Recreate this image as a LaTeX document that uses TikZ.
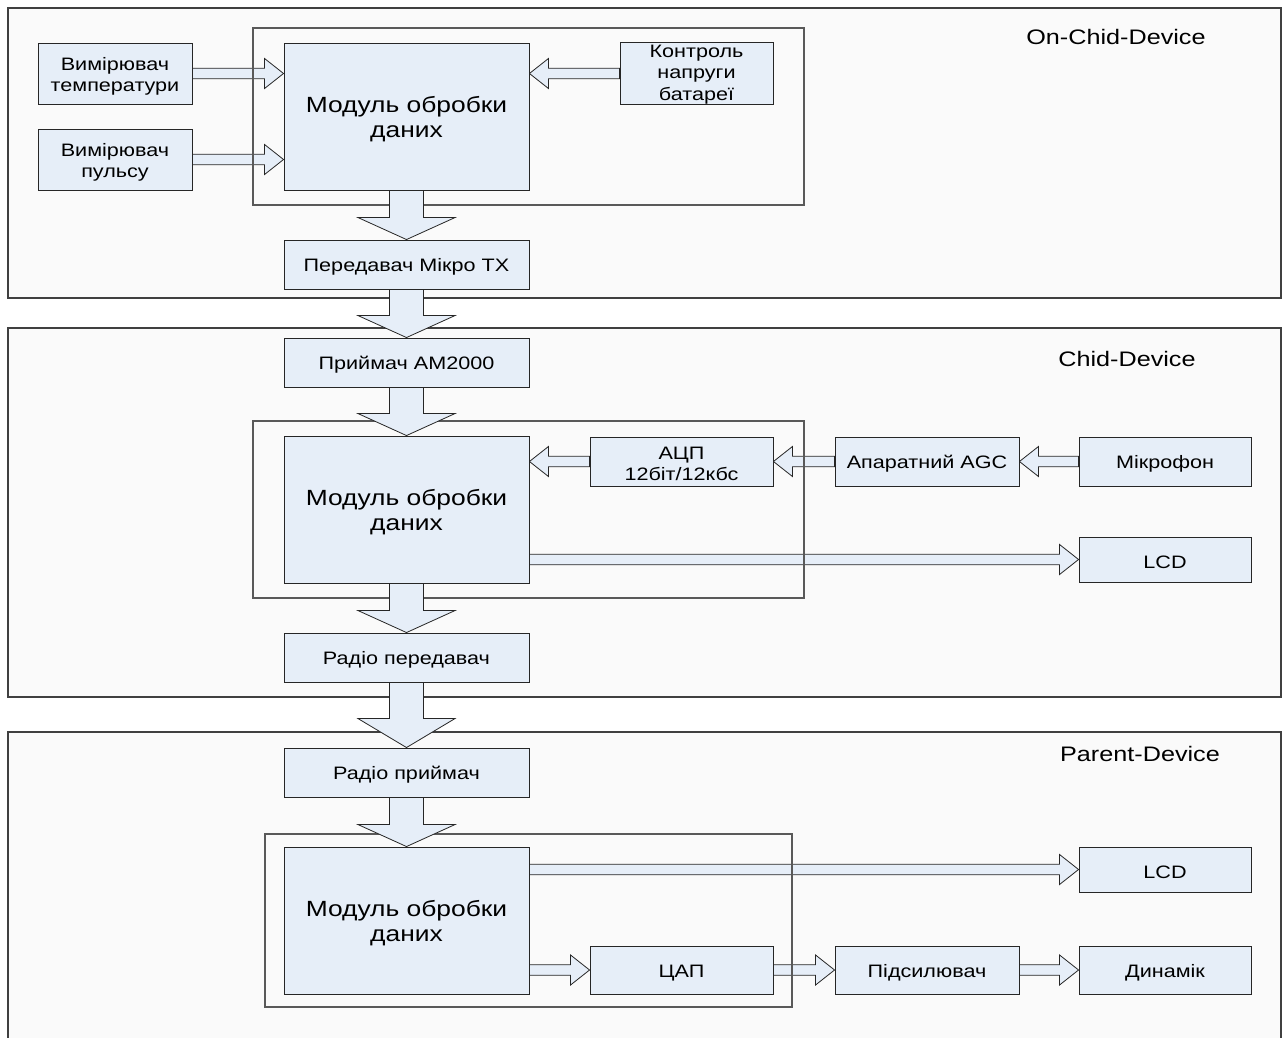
\documentclass[tikz,border=0pt]{standalone}
\usepackage{fontspec}
\setmainfont{Liberation Sans}[FakeStretch=1.2]
\usetikzlibrary{calc,shadows}

\definecolor{boxfill}{HTML}{E6EEF8}
\definecolor{panelfill}{HTML}{FAFAFA}

% drawing order: panels, side arrows, unit frames, then blocks
\pgfdeclarelayer{panels}
\pgfdeclarelayer{sideflow}
\pgfdeclarelayer{frames}
\pgfsetlayers{panels,sideflow,frames,main}

% tall zero-width rule opening each label; it sets the labels a little lower
\newcommand{\nodestrut}{}

\tikzset{
  box/.style={draw=black!85, fill=boxfill, line width=0.9pt, align=center,
    inner sep=0pt,
    font={\fontsize{18}{21}\selectfont\def\nodestrut{\rule{0pt}{18pt}}},
    drop shadow={shadow xshift=1.2pt, shadow yshift=-1.2pt, fill=black!55, opacity=1}},
  tallbox/.style={box,
    font={\fontsize{18}{21.5}\selectfont\def\nodestrut{\rule{0pt}{14.5pt}}}},
  bigbox/.style={box,
    font={\fontsize{22}{25}\selectfont\def\nodestrut{\rule{0pt}{21.5pt}}}},
  panel/.style={draw=black!75, fill=panelfill, line width=1.4pt},
  framebox/.style={draw=black!65, line width=1.1pt},
  title/.style={font=\fontsize{21}{24}\selectfont, anchor=base},
  blockarrow/.style={draw=black!85, fill=boxfill, line width=0.8pt, line join=miter},
}

% rectangle node given by its corners (x1,y1)-(x2,y2)
\newcommand{\blk}[7][box]{%
  \node[#1, minimum width={#5-#3}, minimum height={#6-#4}] (#2)
    at ({(#3+#5)/2},{(#4+#6)/2}) {\nodestrut#7};}

% block arrow from #1 to #2: shaft half width #3, head half width #4, head length #5
\newcommand{\blockarrow}[5]{%
  \coordinate (baS) at (#1);
  \coordinate (baE) at (#2);
  \coordinate (baH) at ($(baE)!#5!(baS)$);
  \draw[blockarrow]
    ($(baS)!#3!90:(baE)$) -- ($(baH)!#3!90:(baE)$) -- ($(baH)!#4!90:(baE)$)
    -- (baE) -- ($(baH)!#4!-90:(baE)$) -- ($(baH)!#3!-90:(baE)$)
    -- ($(baS)!#3!-90:(baE)$) -- cycle;}
\newcommand{\harrow}[2]{\blockarrow{#1}{#2}{5.25pt}{15pt}{19pt}}
\newcommand{\varrow}[3][22pt]{\blockarrow{#2}{#3}{17pt}{48.5pt}{#1}}

\begin{document}
\begin{tikzpicture}[x=1pt, y=-1pt]
  \useasboundingbox (0,0) rectangle (1286,1038);

  % device panels
  \begin{pgfonlayer}{panels}
    \fill[white] (0,0) rectangle (1286,1038);
    \draw[panel] (8,8) rectangle (1281,298);
    \draw[panel] (8,328) rectangle (1281,697);
    \fill[panelfill] (8,732) rectangle (1281,1038);
    \draw[panel] (8,1040) -- (8,732) -- (1281,732) -- (1281,1040);
  \end{pgfonlayer}

  \node[title] (t1) at (1116,45) {On-Chid-Device};
  \node[title] (t2) at (1127,366) {Chid-Device};
  \node[title] (t3) at (1140,761) {Parent-Device};

  % on-child device
  \blk{temp}{38}{43}{192}{104}{Вимірювач\\температури}
  \blk{pulse}{38}{129}{192}{190}{Вимірювач\\пульсу}
  \blk[tallbox]{ctrl}{620}{43}{773}{104}{Контроль\\напруги\\батареї}
  \blk[bigbox]{mod1}{284}{43}{529}{190}{Модуль обробки\\даних}
  \blk{tx1}{284}{240}{529}{289}{Передавач Мікро ТХ}

  % child device
  \blk{rx1}{284}{338}{529}{387}{Приймач AM2000}
  \blk[bigbox]{mod2}{284}{436}{529}{583}{Модуль обробки\\даних}
  \blk{adc}{590}{437}{773}{486}{АЦП\\12біт/12кбс}
  \blk{agc}{835}{437}{1019}{486}{Апаратний AGC}
  \blk{mic}{1079}{437}{1251}{486}{Мікрофон}
  \blk{lcd2}{1079}{537}{1251}{582}{LCD}
  \blk{rtx}{284}{633}{529}{682}{Радіо передавач}

  % parent device
  \blk{rrx}{284}{748}{529}{797}{Радіо приймач}
  \blk[bigbox]{mod3}{284}{847}{529}{994}{Модуль обробки\\даних}
  \blk{lcd3}{1079}{847}{1251}{892}{LCD}
  \blk{dac}{590}{946}{773}{994}{ЦАП}
  \blk{amp}{835}{946}{1019}{994}{Підсилювач}
  \blk{spk}{1079}{946}{1251}{994}{Динамік}

  % horizontal signal arrows
  \begin{pgfonlayer}{sideflow}
    \harrow{temp.east}{mod1.west |- temp.east}
    \harrow{pulse.east}{mod1.west |- pulse.east}
    \harrow{ctrl.west}{mod1.east |- ctrl.west}
    \harrow{adc.west}{mod2.east |- adc.west}
    \harrow{agc.west}{adc.east}
    \harrow{mic.west}{agc.east}
    \harrow{mod2.east |- lcd2.west}{lcd2.west}
    \harrow{mod3.east |- lcd3.west}{lcd3.west}
    \harrow{mod3.east |- dac.west}{dac.west}
    \harrow{dac.east}{amp.west}
    \harrow{amp.east}{spk.west}
  \end{pgfonlayer}

  % processing unit frames
  \begin{pgfonlayer}{frames}
    \draw[framebox] (253,28) rectangle (804,205);
    \draw[framebox] (253,421) rectangle (804,598);
    \draw[framebox] (265,834) rectangle (792,1007);
  \end{pgfonlayer}

  % vertical data-flow arrows
  \varrow{mod1.south}{tx1.north}
  \varrow{tx1.south}{rx1.north}
  \varrow{rx1.south}{mod2.north}
  \varrow{mod2.south}{rtx.north}
  \varrow[29pt]{rtx.south}{rrx.north}
  \varrow{rrx.south}{mod3.north}
\end{tikzpicture}
\end{document}
